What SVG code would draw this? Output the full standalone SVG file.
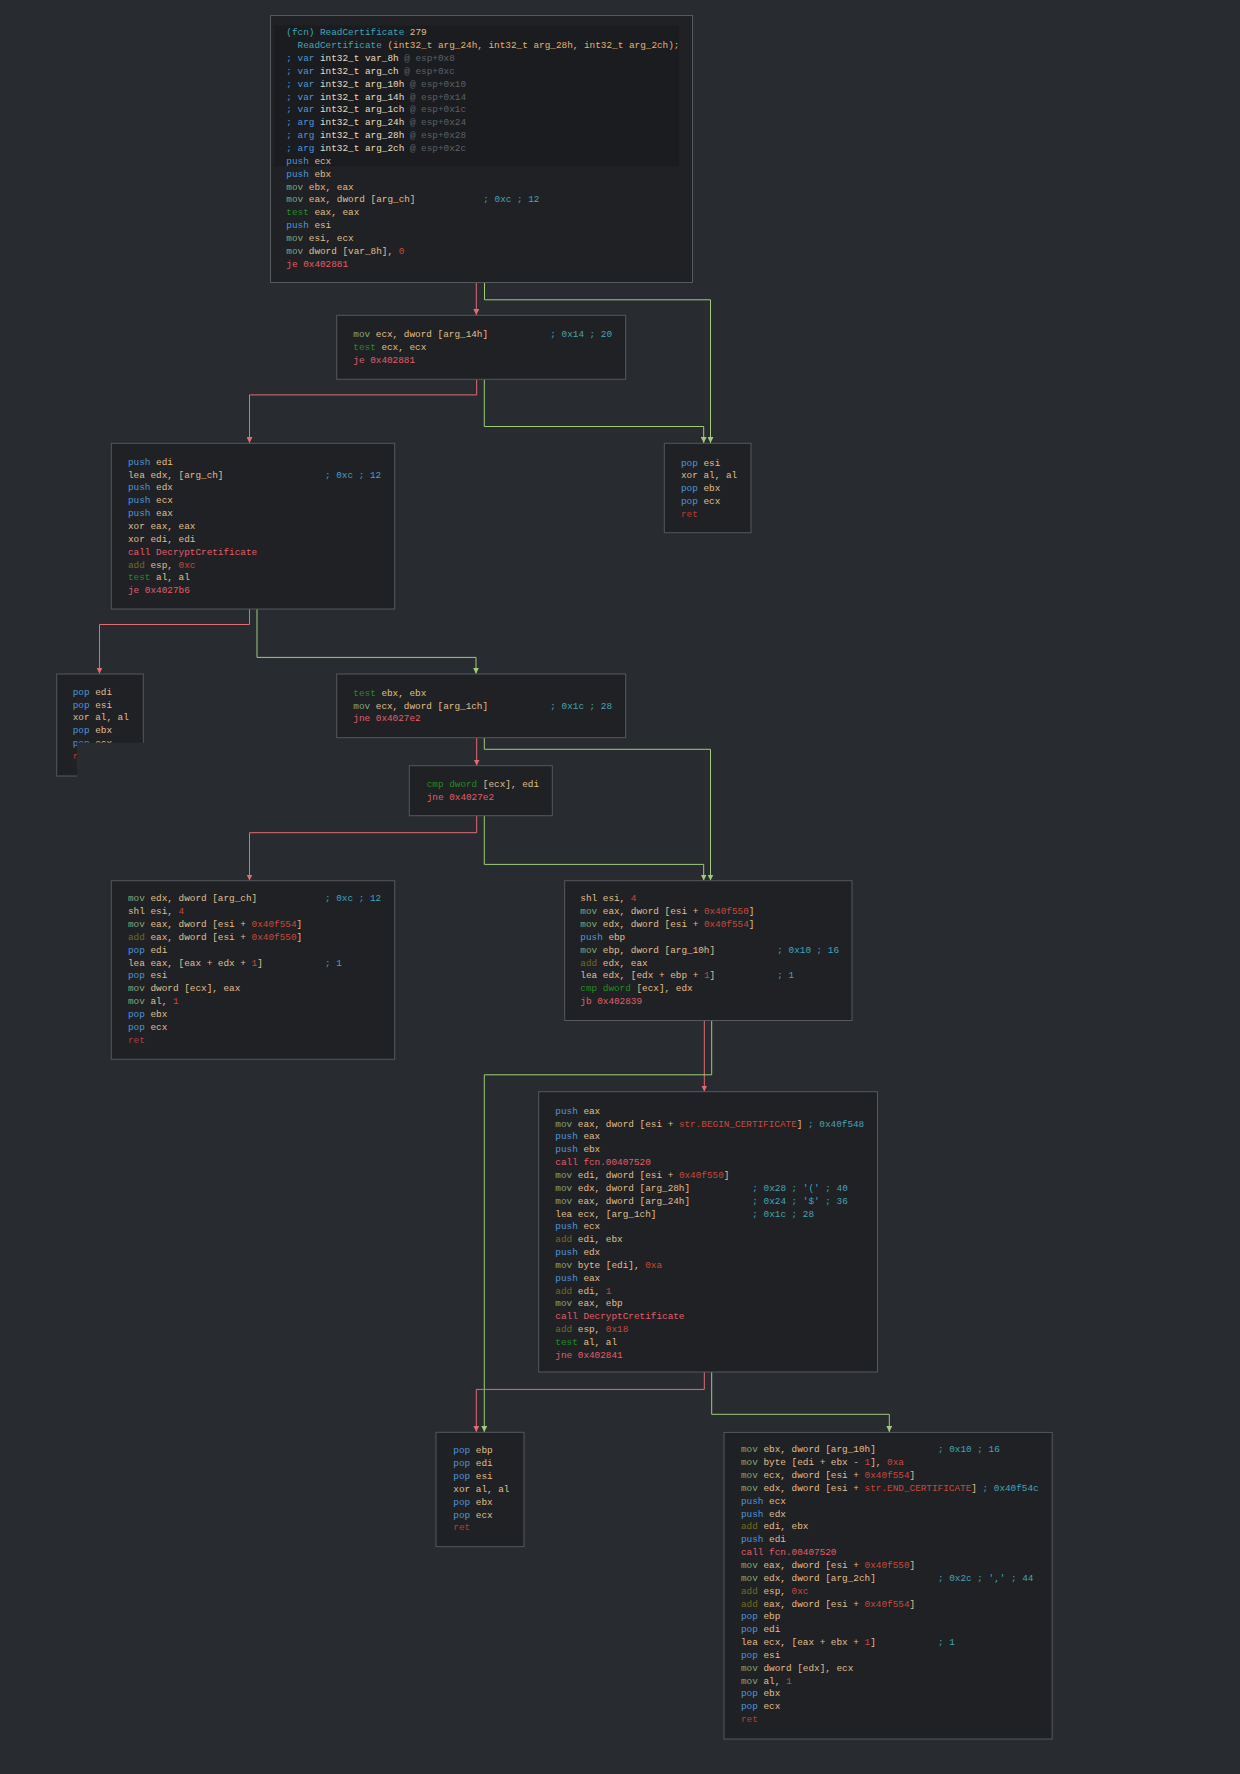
<svg xmlns="http://www.w3.org/2000/svg" width="1240" height="1774" viewBox="0 0 1240 1774" xml:space="preserve">
<style>
.bg{fill:#282b2f}
.nd{fill:#1f2125;stroke:#55585c;stroke-width:1}
.hl{fill:#1a1c1f}
.t{font-family:"Liberation Mono","DejaVu Sans Mono",monospace;font-size:9.37px;fill:#e0bf8c;white-space:pre}
.b{fill:#4f95db}.m{fill:#86a777}.g{fill:#218c21}.a{fill:#716c1c}.c{fill:#41a5b9}.n{fill:#c8493b}.j{fill:#e35d6a}.r{fill:#b33e3e}.d{fill:#5b6168}.h{fill:#3ea6b8}.s{fill:#e2b46c}.v{fill:#e6dcc3}
.er{fill:none;stroke:#e06c75;stroke-width:1}
.eg{fill:none;stroke:#9fcb7b;stroke-width:1}
</style>
<defs>
<marker id="ar" markerUnits="userSpaceOnUse" markerWidth="6" markerHeight="6" refX="6" refY="3" orient="auto"><path d="M0,0 L6,3 L0,6 z" fill="#e06c75"/></marker>
<marker id="ag" markerUnits="userSpaceOnUse" markerWidth="6" markerHeight="6" refX="6" refY="3" orient="auto"><path d="M0,0 L6,3 L0,6 z" fill="#9fcb7b"/></marker>
</defs>
<rect class="bg" x="0" y="0" width="1240" height="1774"/>

<g id="connectors">
<path class="er" marker-end="url(#ar)" d="M476.3,283 V315"/>
<path class="eg" marker-end="url(#ag)" d="M484.5,283 V299.8 H710.5 V443"/>
<path class="er" marker-end="url(#ar)" d="M476.7,379.5 V394.9 H249.5 V443"/>
<path class="eg" marker-end="url(#ag)" d="M484.3,379.5 V426.5 H703.7 V443"/>
<path class="er" marker-end="url(#ar)" d="M249.5,609 V624.5 H99.5 V673.7"/>
<path class="eg" marker-end="url(#ag)" d="M257,609 V657.4 H476 V673.7"/>
<path class="er" marker-end="url(#ar)" d="M476.7,738 V765.5"/>
<path class="eg" marker-end="url(#ag)" d="M484.3,738 V749.3 H710.5 V880.5"/>
<path class="er" marker-end="url(#ar)" d="M476.7,816 V832.7 H249.5 V880.5"/>
<path class="eg" marker-end="url(#ag)" d="M484.3,816 V864.4 H703.7 V880.5"/>
<path class="er" marker-end="url(#ar)" d="M704.3,1020.5 V1091.5"/>
<path class="eg" marker-end="url(#ag)" d="M711.7,1020.5 V1074.8 H484.3 V1432"/>
<path class="er" marker-end="url(#ar)" d="M704.3,1372 V1389.4 H476.3 V1432"/>
<path class="eg" marker-end="url(#ag)" d="M711.7,1372 V1414.3 H889.3 V1432"/>
</g>

<g id="n_402700">
<rect class="nd" x="270.5" y="15.5" width="422" height="267"/>
<rect class="hl" x="274.7" y="25.5" width="404" height="141"/>
<text class="t" x="286.3" y="35.3"><tspan class="h">(fcn) ReadCertificate</tspan> 279</text>
<text class="t" x="286.3" y="48.15"><tspan class="h">  ReadCertificate</tspan><tspan class="s"> (int32_t arg_24h, int32_t arg_28h, int32_t arg_2ch);</tspan></text>
<text class="t" x="286.3" y="61"><tspan class="b">; var</tspan><tspan class="v"> int32_t var_8h</tspan><tspan class="d"> @ esp+0x8</tspan></text>
<text class="t" x="286.3" y="73.85"><tspan class="b">; var</tspan><tspan class="v"> int32_t arg_ch</tspan><tspan class="d"> @ esp+0xc</tspan></text>
<text class="t" x="286.3" y="86.7"><tspan class="b">; var</tspan><tspan class="v"> int32_t arg_10h</tspan><tspan class="d"> @ esp+0x10</tspan></text>
<text class="t" x="286.3" y="99.55"><tspan class="b">; var</tspan><tspan class="v"> int32_t arg_14h</tspan><tspan class="d"> @ esp+0x14</tspan></text>
<text class="t" x="286.3" y="112.4"><tspan class="b">; var</tspan><tspan class="v"> int32_t arg_1ch</tspan><tspan class="d"> @ esp+0x1c</tspan></text>
<text class="t" x="286.3" y="125.25"><tspan class="b">; arg</tspan><tspan class="v"> int32_t arg_24h</tspan><tspan class="d"> @ esp+0x24</tspan></text>
<text class="t" x="286.3" y="138.1"><tspan class="b">; arg</tspan><tspan class="v"> int32_t arg_28h</tspan><tspan class="d"> @ esp+0x28</tspan></text>
<text class="t" x="286.3" y="150.95"><tspan class="b">; arg</tspan><tspan class="v"> int32_t arg_2ch</tspan><tspan class="d"> @ esp+0x2c</tspan></text>
<text class="t" x="286.3" y="163.8"><tspan class="b">push</tspan> ecx</text>
<text class="t" x="286.3" y="176.65"><tspan class="b">push</tspan> ebx</text>
<text class="t" x="286.3" y="189.5"><tspan class="m">mov</tspan> ebx, eax</text>
<text class="t" x="286.3" y="202.35"><tspan class="m">mov</tspan> eax, dword [arg_ch]<tspan class="c" x="483.3">; 0xc ; 12</tspan></text>
<text class="t" x="286.3" y="215.2"><tspan class="g">test</tspan> eax, eax</text>
<text class="t" x="286.3" y="228.05"><tspan class="b">push</tspan> esi</text>
<text class="t" x="286.3" y="240.9"><tspan class="m">mov</tspan> esi, ecx</text>
<text class="t" x="286.3" y="253.75"><tspan class="m">mov</tspan> dword [var_8h], <tspan class="n">0</tspan></text>
<text class="t j" x="286.3" y="266.6">je 0x402881</text>
</g>

<g id="n_40271e">
<rect class="nd" x="336.7" y="315.3" width="289" height="64"/>
<text class="t" x="353.3" y="337"><tspan class="m">mov</tspan> ecx, dword [arg_14h]<tspan class="c" x="550.3">; 0x14 ; 20</tspan></text>
<text class="t" x="353.3" y="349.85"><tspan class="g">test</tspan> ecx, ecx</text>
<text class="t j" x="353.3" y="362.7">je 0x402881</text>
</g>

<g id="n_402728">
<rect class="nd" x="111.3" y="443.3" width="283.4" height="165.7"/>
<text class="t" x="128" y="464.7"><tspan class="b">push</tspan> edi</text>
<text class="t" x="128" y="477.55">lea edx, [arg_ch]<tspan class="c" x="325">; 0xc ; 12</tspan></text>
<text class="t" x="128" y="490.4"><tspan class="b">push</tspan> edx</text>
<text class="t" x="128" y="503.25"><tspan class="b">push</tspan> ecx</text>
<text class="t" x="128" y="516.1"><tspan class="b">push</tspan> eax</text>
<text class="t" x="128" y="528.95">xor eax, eax</text>
<text class="t" x="128" y="541.8">xor edi, edi</text>
<text class="t j" x="128" y="554.65">call DecryptCretificate</text>
<text class="t" x="128" y="567.5"><tspan class="a">add</tspan> esp, <tspan class="n">0xc</tspan></text>
<text class="t" x="128" y="580.35"><tspan class="g">test</tspan> al, al</text>
<text class="t j" x="128" y="593.2">je 0x4027b6</text>
</g>

<g id="n_402881">
<rect class="nd" x="664.3" y="443.3" width="86.7" height="89.4"/>
<text class="t" x="681" y="465.5"><tspan class="b">pop</tspan> esi</text>
<text class="t" x="681" y="478.35">xor al, al</text>
<text class="t" x="681" y="491.2"><tspan class="b">pop</tspan> ebx</text>
<text class="t" x="681" y="504.05"><tspan class="b">pop</tspan> ecx</text>
<text class="t r" x="681" y="516.9">ret</text>
</g>

<g id="n_4027b6">
<rect class="nd" x="56.7" y="674" width="86.6" height="102"/>
<text class="t" x="72.7" y="694.7"><tspan class="b">pop</tspan> edi</text>
<text class="t" x="72.7" y="707.55"><tspan class="b">pop</tspan> esi</text>
<text class="t" x="72.7" y="720.4">xor al, al</text>
<text class="t" x="72.7" y="733.25"><tspan class="b">pop</tspan> ebx</text>
<text class="t" x="72.7" y="746.1"><tspan class="b">pop</tspan> ecx</text>
<text class="t r" x="72.7" y="758.95">ret</text>
<rect class="bg" x="77" y="742.7" width="80" height="50"/>
</g>

<g id="n_40274a">
<rect class="nd" x="336.7" y="674" width="289" height="63.7"/>
<text class="t" x="353.3" y="695.7"><tspan class="g">test</tspan> ebx, ebx</text>
<text class="t" x="353.3" y="708.55"><tspan class="m">mov</tspan> ecx, dword [arg_1ch]<tspan class="c" x="550.3">; 0x1c ; 28</tspan></text>
<text class="t j" x="353.3" y="721.4">jne 0x4027e2</text>
</g>

<g id="n_402754">
<rect class="nd" x="409.3" y="765.7" width="143" height="50"/>
<text class="t" x="426.7" y="787"><tspan class="g">cmp dword</tspan> [ecx], edi</text>
<text class="t j" x="426.7" y="799.85">jne 0x4027e2</text>
</g>

<g id="n_402758">
<rect class="nd" x="111.3" y="880.7" width="283.4" height="178.6"/>
<text class="t" x="128" y="901.3"><tspan class="m">mov</tspan> edx, dword [arg_ch]<tspan class="c" x="325">; 0xc ; 12</tspan></text>
<text class="t" x="128" y="914.15">shl esi, <tspan class="n">4</tspan></text>
<text class="t" x="128" y="927"><tspan class="m">mov</tspan> eax, dword [esi + <tspan class="n">0x40f554</tspan>]</text>
<text class="t" x="128" y="939.85"><tspan class="a">add</tspan> eax, dword [esi + <tspan class="n">0x40f550</tspan>]</text>
<text class="t" x="128" y="952.7"><tspan class="b">pop</tspan> edi</text>
<text class="t" x="128" y="965.55">lea eax, [eax + edx + <tspan class="n">1</tspan>]<tspan class="c" x="325">; 1</tspan></text>
<text class="t" x="128" y="978.4"><tspan class="b">pop</tspan> esi</text>
<text class="t" x="128" y="991.25"><tspan class="m">mov</tspan> dword [ecx], eax</text>
<text class="t" x="128" y="1004.1"><tspan class="m">mov</tspan> al, <tspan class="n">1</tspan></text>
<text class="t" x="128" y="1016.95"><tspan class="b">pop</tspan> ebx</text>
<text class="t" x="128" y="1029.8"><tspan class="b">pop</tspan> ecx</text>
<text class="t r" x="128" y="1042.65">ret</text>
</g>

<g id="n_4027e2">
<rect class="nd" x="564.7" y="880.7" width="287.3" height="139.8"/>
<text class="t" x="580.3" y="901.3">shl esi, <tspan class="n">4</tspan></text>
<text class="t" x="580.3" y="914.15"><tspan class="m">mov</tspan> eax, dword [esi + <tspan class="n">0x40f550</tspan>]</text>
<text class="t" x="580.3" y="927"><tspan class="m">mov</tspan> edx, dword [esi + <tspan class="n">0x40f554</tspan>]</text>
<text class="t" x="580.3" y="939.85"><tspan class="b">push</tspan> ebp</text>
<text class="t" x="580.3" y="952.7"><tspan class="m">mov</tspan> ebp, dword [arg_10h]<tspan class="c" x="777.3">; 0x10 ; 16</tspan></text>
<text class="t" x="580.3" y="965.55"><tspan class="a">add</tspan> edx, eax</text>
<text class="t" x="580.3" y="978.4">lea edx, [edx + ebp + <tspan class="n">1</tspan>]<tspan class="c" x="777.3">; 1</tspan></text>
<text class="t" x="580.3" y="991.25"><tspan class="g">cmp dword</tspan> [ecx], edx</text>
<text class="t j" x="580.3" y="1004.1">jb 0x402839</text>
</g>

<g id="n_4027fb">
<rect class="nd" x="538.7" y="1091.7" width="338.8" height="280.3"/>
<text class="t" x="555.3" y="1113.7"><tspan class="b">push</tspan> eax</text>
<text class="t" x="555.3" y="1126.55"><tspan class="m">mov</tspan> eax, dword [esi + <tspan class="n">str.BEGIN_CERTIFICATE</tspan>] <tspan class="c">; 0x40f548</tspan></text>
<text class="t" x="555.3" y="1139.4"><tspan class="b">push</tspan> eax</text>
<text class="t" x="555.3" y="1152.25"><tspan class="b">push</tspan> ebx</text>
<text class="t j" x="555.3" y="1165.1">call fcn.00407520</text>
<text class="t" x="555.3" y="1177.95"><tspan class="m">mov</tspan> edi, dword [esi + <tspan class="n">0x40f550</tspan>]</text>
<text class="t" x="555.3" y="1190.8"><tspan class="m">mov</tspan> edx, dword [arg_28h]<tspan class="c" x="752.3">; 0x28 ; '(' ; 40</tspan></text>
<text class="t" x="555.3" y="1203.65"><tspan class="m">mov</tspan> eax, dword [arg_24h]<tspan class="c" x="752.3">; 0x24 ; '$' ; 36</tspan></text>
<text class="t" x="555.3" y="1216.5">lea ecx, [arg_1ch]<tspan class="c" x="752.3">; 0x1c ; 28</tspan></text>
<text class="t" x="555.3" y="1229.35"><tspan class="b">push</tspan> ecx</text>
<text class="t" x="555.3" y="1242.2"><tspan class="a">add</tspan> edi, ebx</text>
<text class="t" x="555.3" y="1255.05"><tspan class="b">push</tspan> edx</text>
<text class="t" x="555.3" y="1267.9"><tspan class="m">mov</tspan> byte [edi], <tspan class="n">0xa</tspan></text>
<text class="t" x="555.3" y="1280.75"><tspan class="b">push</tspan> eax</text>
<text class="t" x="555.3" y="1293.6"><tspan class="a">add</tspan> edi, <tspan class="n">1</tspan></text>
<text class="t" x="555.3" y="1306.45"><tspan class="m">mov</tspan> eax, ebp</text>
<text class="t j" x="555.3" y="1319.3">call DecryptCretificate</text>
<text class="t" x="555.3" y="1332.15"><tspan class="a">add</tspan> esp, <tspan class="n">0x18</tspan></text>
<text class="t" x="555.3" y="1345"><tspan class="g">test</tspan> al, al</text>
<text class="t j" x="555.3" y="1357.85">jne 0x402841</text>
</g>

<g id="n_402839">
<rect class="nd" x="436" y="1432.3" width="88" height="114.4"/>
<text class="t" x="453.3" y="1453.3"><tspan class="b">pop</tspan> ebp</text>
<text class="t" x="453.3" y="1466.15"><tspan class="b">pop</tspan> edi</text>
<text class="t" x="453.3" y="1479"><tspan class="b">pop</tspan> esi</text>
<text class="t" x="453.3" y="1491.85">xor al, al</text>
<text class="t" x="453.3" y="1504.7"><tspan class="b">pop</tspan> ebx</text>
<text class="t" x="453.3" y="1517.55"><tspan class="b">pop</tspan> ecx</text>
<text class="t r" x="453.3" y="1530.4">ret</text>
</g>

<g id="n_402841">
<rect class="nd" x="724" y="1432.4" width="328.2" height="306.6"/>
<text class="t" x="741" y="1452.3"><tspan class="m">mov</tspan> ebx, dword [arg_10h]<tspan class="c" x="938">; 0x10 ; 16</tspan></text>
<text class="t" x="741" y="1465.15"><tspan class="m">mov</tspan> byte [edi + ebx - <tspan class="n">1</tspan>], <tspan class="n">0xa</tspan></text>
<text class="t" x="741" y="1478"><tspan class="m">mov</tspan> ecx, dword [esi + <tspan class="n">0x40f554</tspan>]</text>
<text class="t" x="741" y="1490.85"><tspan class="m">mov</tspan> edx, dword [esi + <tspan class="n">str.END_CERTIFICATE</tspan>] <tspan class="c">; 0x40f54c</tspan></text>
<text class="t" x="741" y="1503.7"><tspan class="b">push</tspan> ecx</text>
<text class="t" x="741" y="1516.55"><tspan class="b">push</tspan> edx</text>
<text class="t" x="741" y="1529.4"><tspan class="a">add</tspan> edi, ebx</text>
<text class="t" x="741" y="1542.25"><tspan class="b">push</tspan> edi</text>
<text class="t j" x="741" y="1555.1">call fcn.00407520</text>
<text class="t" x="741" y="1567.95"><tspan class="m">mov</tspan> eax, dword [esi + <tspan class="n">0x40f550</tspan>]</text>
<text class="t" x="741" y="1580.8"><tspan class="m">mov</tspan> edx, dword [arg_2ch]<tspan class="c" x="938">; 0x2c ; ',' ; 44</tspan></text>
<text class="t" x="741" y="1593.65"><tspan class="a">add</tspan> esp, <tspan class="n">0xc</tspan></text>
<text class="t" x="741" y="1606.5"><tspan class="a">add</tspan> eax, dword [esi + <tspan class="n">0x40f554</tspan>]</text>
<text class="t" x="741" y="1619.35"><tspan class="b">pop</tspan> ebp</text>
<text class="t" x="741" y="1632.2"><tspan class="b">pop</tspan> edi</text>
<text class="t" x="741" y="1645.05">lea ecx, [eax + ebx + <tspan class="n">1</tspan>]<tspan class="c" x="938">; 1</tspan></text>
<text class="t" x="741" y="1657.9"><tspan class="b">pop</tspan> esi</text>
<text class="t" x="741" y="1670.75"><tspan class="m">mov</tspan> dword [edx], ecx</text>
<text class="t" x="741" y="1683.6"><tspan class="m">mov</tspan> al, <tspan class="n">1</tspan></text>
<text class="t" x="741" y="1696.45"><tspan class="b">pop</tspan> ebx</text>
<text class="t" x="741" y="1709.3"><tspan class="b">pop</tspan> ecx</text>
<text class="t r" x="741" y="1722.15">ret</text>
</g>
</svg>
